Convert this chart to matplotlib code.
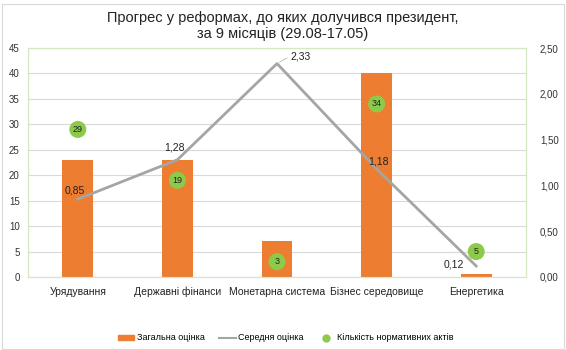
import matplotlib
matplotlib.use("Agg")
import matplotlib.pyplot as plt
from matplotlib.lines import Line2D
from matplotlib.patches import Patch

categories = ["Урядування", "Державні фінанси", "Монетарна система",
              "Бізнес середовище", "Енергетика"]
total_score = [23, 23, 7, 40, 0.5]
avg_score = [0.85, 1.28, 2.33, 1.18, 0.12]
acts_count = [29, 19, 3, 34, 5]

ORANGE = "#ED7D31"
GREY = "#A5A5A5"
GREEN = "#8CCB4A"

plt.rcParams["font.family"] = ["Liberation Sans", "DejaVu Sans"]

fig = plt.figure(figsize=(5.66, 3.5), dpi=100)
ax = fig.add_axes([28 / 566, 1 - 277 / 350, (526 - 28) / 566, (277 - 48) / 350])
ax2 = ax.twinx()

x = list(range(len(categories)))
ax.bar(x, total_score, width=0.31, color=ORANGE, zorder=2)
ax.set_ylim(0, 45)
ax.set_yticks(range(0, 46, 5))
ax.set_xlim(-0.5, len(categories) - 0.5)
ax.set_xticks(x)
ax.set_xticklabels(categories, fontsize=7.5, color="#222222")
ax.tick_params(axis="both", length=0, pad=7)
ax.tick_params(axis="y", labelsize=7, colors="#333333", pad=6)
ax.grid(axis="y", color="#D9D9D9", linewidth=0.8, zorder=0)
ax.set_axisbelow(True)

# кількість нормативних актів - кружечки на лівій осі
ax.scatter(x, acts_count, s=150, color=GREEN, zorder=4, edgecolors="none")
for xi, n in zip(x, acts_count):
    ax.text(xi, n, str(n), ha="center", va="center", fontsize=6.5,
            color="#222222", zorder=5)

ax2.plot(x, avg_score, color=GREY, linewidth=2, zorder=3)
ax2.set_ylim(0, 2.5)
ax2.set_yticks([0, 0.5, 1.0, 1.5, 2.0, 2.5])
ax2.set_yticklabels([f"{v:.2f}".replace(".", ",") for v in ax2.get_yticks()])
ax2.tick_params(axis="y", length=0, labelsize=7, colors="#333333", pad=10)

# підписи середньої оцінки
offsets = [(-2, 6, "center"), (-2, 9, "center"), (10, 5, "left"),
           (1, 5, "center"), (-16, 1, "center")]
for xi, v, (dx, dy, ha) in zip(x, avg_score, offsets):
    ax2.annotate(f"{v:.2f}".replace(".", ","), (xi, v), xytext=(dx, dy),
                 textcoords="offset points", ha=ha, va="center",
                 fontsize=7.5, color="#222222", zorder=6)
# лінія-виноска до максимуму
ax2.annotate("", (2, avg_score[2]), xytext=(9, 5), textcoords="offset points",
             arrowprops=dict(arrowstyle="-", color="#BFBFBF", lw=0.7))

for a in (ax, ax2):
    for sp in a.spines.values():
        sp.set_color("#D5E8C4")
        sp.set_linewidth(0.8)

fig.text(0.5, 1 - 18 / 350, "Прогрес у реформах, до яких долучився президент,",
         ha="center", va="center", fontsize=10.5, color="#222222")
fig.text(0.5, 1 - 34 / 350, "за 9 місяців (29.08-17.05)",
         ha="center", va="center", fontsize=10.5, color="#222222")

handles = [
    Patch(color=ORANGE),
    Line2D([0], [0], color=GREY, linewidth=1.5),
    Line2D([0], [0], marker="o", color="none", markerfacecolor=GREEN,
           markeredgecolor="none", markersize=6),
]
labels = ["Загальна оцінка", "Середня оцінка", "Кількість нормативних актів"]
fig.legend(handles, labels, loc="center", bbox_to_anchor=(0.505, 1 - 338 / 350),
           ncol=3, frameon=False, fontsize=6.5, handlelength=1.8,
           handleheight=0.4, columnspacing=1.6, handletextpad=0.3)

# рамка навколо діаграми
fig.patches.append(plt.Rectangle((0.003, 0.003), 0.994, 0.985,
                                 transform=fig.transFigure, fill=False,
                                 edgecolor="#D9D9D9", linewidth=0.8))

fig.savefig("out.png", dpi=100)
